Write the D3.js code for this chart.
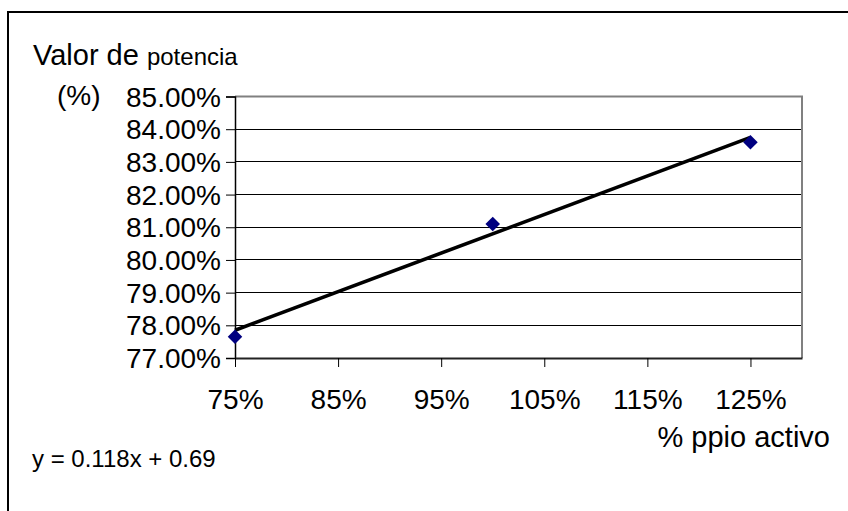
<!DOCTYPE html>
<html>
<head>
<meta charset="utf-8">
<script src="https://cdn.jsdelivr.net/npm/d3@7/dist/d3.min.js"></script>
<style>
  html, body { margin: 0; padding: 0; background: #fff; }
  svg { display: block; font-family: "Liberation Sans", Arial, sans-serif; }
</style>
</head>
<body>
<svg id="chart" width="848" height="511"></svg>
<script>
// Active ingredient level (fraction) vs. measured potency (fraction)
const principioActivo = [0.75, 1.00, 1.25];
const potencia = [0.7765, 0.8110, 0.8360];

// Least-squares trendline as printed on the chart
const pendiente = 0.118;
const ordenada = 0.69;

// Axis ticks
const yTicks = [0.77, 0.78, 0.79, 0.80, 0.81, 0.82, 0.83, 0.84, 0.85];
const xTicks = [0.75, 0.85, 0.95, 1.05, 1.15, 1.25];
const xDomain = [0.75, 1.30];
const yDomain = [0.77, 0.85];

const svg = d3.select("#chart");
const W = 848, H = 511;
const FONT = "Liberation Sans, Arial, sans-serif";

// Outer chart frame (runs off the right and bottom edges)
svg.append("rect")
  .attr("x", 8).attr("y", 12)
  .attr("width", W + 20).attr("height", H + 20)
  .attr("fill", "#fff").attr("stroke", "#000").attr("stroke-width", 2);

const plot = { left: 235, right: 802, top: 96.5, bottom: 358 };

const x = d3.scaleLinear().domain(xDomain).range([plot.left, plot.right]);
const y = d3.scaleLinear().domain(yDomain).range([plot.bottom, plot.top]);

// Horizontal gridlines
svg.append("g")
  .selectAll("line")
  .data(yTicks)
  .join("line")
  .attr("x1", plot.left).attr("x2", plot.right)
  .attr("y1", d => y(d)).attr("y2", d => y(d))
  .attr("stroke", "#000").attr("stroke-width", 1)
  .attr("shape-rendering", "crispEdges");

// Plot area border (top/right in gray)
svg.append("path")
  .attr("d", `M${plot.left},${plot.top}H${plot.right}V${plot.bottom}`)
  .attr("fill", "none").attr("stroke", "#808080").attr("stroke-width", 2);

// Y axis
const yAxis = svg.append("g")
  .attr("transform", `translate(${plot.left},0)`)
  .call(d3.axisLeft(y).tickValues(yTicks).tickFormat(d3.format(".2%")).tickSize(9).tickPadding(5));
yAxis.select(".domain").attr("stroke", "#000").attr("stroke-width", 1.5);
yAxis.selectAll(".tick line").attr("stroke", "#000");
yAxis.selectAll("text").attr("fill", "#000").attr("font-size", 28)
  .attr("font-family", FONT).attr("dy", "0.34em");

// X axis
const xAxis = svg.append("g")
  .attr("transform", `translate(0,${plot.bottom})`)
  .call(d3.axisBottom(x).tickValues(xTicks).tickFormat(d3.format(".0%")).tickSize(9).tickSizeOuter(0));
xAxis.select(".domain").attr("stroke", "#222").attr("stroke-width", 2);
xAxis.selectAll(".tick line").attr("stroke", "#000");
xAxis.selectAll("text").attr("fill", "#000").attr("font-size", 28)
  .attr("font-family", FONT)
  .attr("y", 51).attr("dy", 0);

// Trendline over the data range
const xr = d3.extent(principioActivo);
svg.append("line")
  .attr("x1", x(xr[0])).attr("y1", y(pendiente * xr[0] + ordenada))
  .attr("x2", x(xr[1])).attr("y2", y(pendiente * xr[1] + ordenada))
  .attr("stroke", "#000").attr("stroke-width", 3.6);

// Data markers (diamonds)
svg.append("g")
  .selectAll("path")
  .data(principioActivo.map((v, i) => [v, potencia[i]]))
  .join("path")
  .attr("d", d3.symbol().type(d3.symbolDiamond2).size(135))
  .attr("transform", d => `translate(${x(d[0])},${y(d[1])})`)
  .attr("fill", "#000080");

// Titles
const yTitle = svg.append("text").attr("x", 33).attr("y", 65).attr("fill", "#000");
yTitle.append("tspan").attr("font-size", 29).text("Valor de ");
yTitle.append("tspan").attr("font-size", 24).text("potencia");

svg.append("text").attr("x", 57).attr("y", 105).attr("font-size", 28).attr("fill", "#000").text("(%)");

svg.append("text").attr("x", 830).attr("y", 447).attr("text-anchor", "end")
  .attr("font-size", 29).attr("fill", "#000").text("% ppio activo");

// Trendline equation
svg.append("text").attr("x", 32).attr("y", 467).attr("font-size", 24).attr("fill", "#000")
  .text(`y = ${pendiente}x + ${ordenada}`);
</script>
</body>
</html>
